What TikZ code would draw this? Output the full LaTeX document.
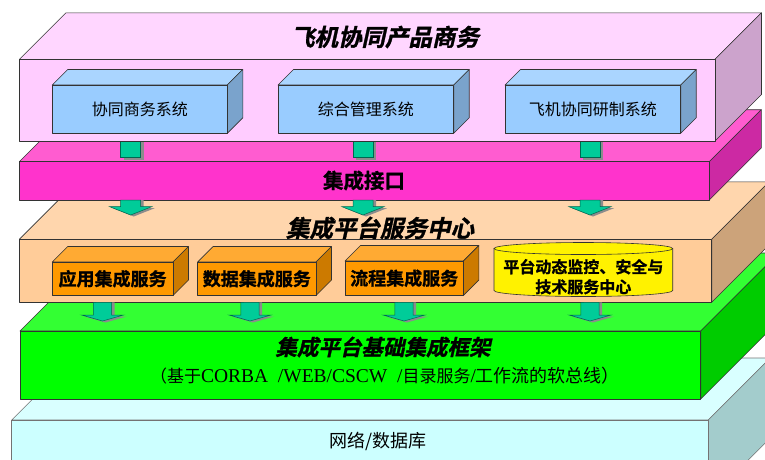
\documentclass[tikz,border=0pt]{standalone}
\usepackage{fontspec}
\setmainfont{Liberation Serif}
\newfontfamily\cjk{Noto Sans CJK SC}
\newfontfamily\cjkb{Noto Sans CJK SC Bold}[FakeBold=1.2]
\newfontfamily\cjkbi{Noto Sans CJK SC Bold}[FakeSlant=0.22, FakeBold=1.2]
\usetikzlibrary{calc}
\definecolor{pinkfront}{HTML}{FFCCFF}\definecolor{pinktop}{HTML}{FFD6FF}\definecolor{pinkside}{HTML}{CCA3CC}
\definecolor{bluefront}{HTML}{99CCFF}\definecolor{bluetop}{HTML}{AAD5FF}\definecolor{blueside}{HTML}{7AA3CC}
\definecolor{magfront}{HTML}{FF33CC}\definecolor{magtop}{HTML}{FF5CD0}\definecolor{magside}{HTML}{CC29A3}
\definecolor{peachfront}{HTML}{FFCC99}\definecolor{peachtop}{HTML}{FFD6AD}\definecolor{peachside}{HTML}{CCA37A}
\definecolor{orfront}{HTML}{FF9900}\definecolor{ortop}{HTML}{FFAA33}\definecolor{orside}{HTML}{CC7A00}
\definecolor{greenfront}{HTML}{00FF00}\definecolor{greentop}{HTML}{33FF33}\definecolor{greenside}{HTML}{00CC00}
\definecolor{cyanfront}{HTML}{CCFFFF}\definecolor{cyantop}{HTML}{D9FFFF}\definecolor{cyanside}{HTML}{A3CCCC}
\definecolor{tealc}{HTML}{00CC99}\definecolor{tealedge}{HTML}{006650}
\definecolor{edgec}{HTML}{333333}
\tikzset{
  edge/.style={draw=edgec, line width=0.6pt, line join=round},
  pinkfrontst/.style={fill=pinkfront}, pinktopst/.style={fill=pinktop}, pinksidest/.style={fill=pinkside},
  bluefrontst/.style={fill=bluefront}, bluetopst/.style={fill=bluetop}, bluesidest/.style={fill=blueside},
  magfrontst/.style={fill=magfront}, magtopst/.style={fill=magtop}, magsidest/.style={fill=magside},
  peachfrontst/.style={fill=peachfront}, peachtopst/.style={fill=peachtop}, peachsidest/.style={fill=peachside},
  orfrontst/.style={fill=orfront}, ortopst/.style={fill=ortop}, orsidest/.style={fill=orside},
  greenfrontst/.style={fill=greenfront}, greentopst/.style={fill=greentop}, greensidest/.style={fill=greenside},
  cyanfrontst/.style={fill=cyanfront}, cyantopst/.style={fill=cyantop}, cyansidest/.style={fill=cyanside},
  arrowbody/.style={fill=tealc, draw=tealedge, line width=0.5pt},
  arrowshadow/.style={fill=black!45},
  txt/.style={inner sep=0pt, text=black},
}
% name, style prefix, x1, y1, x2, y2, depth
\newcommand\cuboid[7]{%
  \path[edge,#2topst] (#3,#4) -- (#3+#7,#4-#7) -- (#5+#7,#4-#7) -- (#5,#4) -- cycle;
  \path[edge,#2sidest] (#5,#4) -- (#5+#7,#4-#7) -- (#5+#7,#6-#7) -- (#5,#6) -- cycle;
  \node[edge,#2frontst, anchor=north west, inner sep=0pt, outer sep=0pt,
        minimum width={(#5-#3)*1pt}, minimum height={(#6-#4)*1pt}] (#1) at (#3,#4) {};
}
% block arrow: cx, ytop, yhead, ytip, shaft half, head half
\newcommand\barrow[6]{%
  \fill[arrowshadow] (#1-#5+3,#2) -- (#1-#5+3,#3+1.5) -- (#1-#6+3,#3+1.5) -- (#1+3,#4+1.5) -- (#1+#6+3,#3+1.5) -- (#1+#5+3,#3+1.5) -- (#1+#5+3,#2) -- cycle;
  \path[arrowbody] (#1-#5,#2) -- (#1-#5,#3) -- (#1-#6,#3) -- (#1,#4) -- (#1+#6,#3) -- (#1+#5,#3) -- (#1+#5,#2) -- cycle;
}
\newcommand\connrect[3]{% cx, ytop, ybottom
  \fill[arrowshadow] (#1-10+3,#2) rectangle (#1+10+3,#3+2);
  \path[arrowbody] (#1-10,#2) rectangle (#1+10,#3);
}
\begin{document}
\begin{tikzpicture}[x=1pt,y=-1pt]
\useasboundingbox (0,0) rectangle (765,459);
\clip (0,0) rectangle (765,459);
% bottom layer
\begin{scope}[edge/.style={draw=black!55, line width=0.6pt, line join=round}]
\cuboid{cyan}{cyan}{11.7}{420}{708.3}{500}{62}
\end{scope}
\cuboid{green}{green}{20}{331}{700.7}{399}{78}
\cuboid{peach}{peach}{19.3}{239.3}{711.7}{302.3}{57.5}
\cuboid{mag}{mag}{19.3}{161.7}{709.3}{200}{52}
% connectors between pink and magenta
\connrect{130.7}{141}{157.7}
\connrect{363}{141}{157.7}
\connrect{590}{141}{157.7}
\cuboid{pink}{pink}{19.5}{59.3}{715}{141}{46.5}
% blue boxes
\cuboid{blue1}{blue}{52.2}{85}{227.3}{133.3}{15.5}
\cuboid{blue2}{blue}{278}{85}{453.7}{133.3}{15.5}
\cuboid{blue3}{blue}{505}{85}{680.7}{133.3}{15.5}
% orange boxes
\cuboid{or1}{or}{52.2}{262}{173}{295.5}{15.5}
\cuboid{or2}{or}{197.6}{262}{316}{295.5}{15.5}
\cuboid{or3}{or}{345}{261}{463.4}{295.5}{15.5}
% cylinder
\path[edge, fill=yellow] (494,248.5) -- (494,290.5) arc[start angle=180, end angle=0, x radius=89.35, y radius=6] -- (672.7,248.5) -- cycle;
\path[edge, fill=yellow] (583.35,248.5) ellipse[x radius=89.35, y radius=6];
\node[inner sep=0pt, minimum width=178.7pt, minimum height=54pt] (cyl) at (583.35,271) {};
% arrows magenta -> peach
\barrow{130.7}{200}{206.7}{215}{10}{21}
\barrow{363}{200}{206.7}{215}{10}{21}
\barrow{590}{200}{206.7}{215}{10}{21}
% arrows peach -> green
\barrow{102.5}{302.3}{315}{321}{9.2}{21}
\barrow{250}{302.3}{315}{321}{9.2}{21}
\barrow{404}{302.3}{315}{321}{9.2}{21}
\barrow{590}{302.3}{315}{321}{9.2}{21}
% texts
\node[txt, font=\cjkbi\fontsize{23.5}{24}\selectfont] (t1) at (385,37) {飞机协同产品商务};
\node[txt, font=\cjk\fontsize{16}{16}\selectfont] (tb1) at (blue1.center) {协同商务系统};
\node[txt, font=\cjk\fontsize{16}{16}\selectfont] (tb2) at (blue2.center) {综合管理系统};
\node[txt, font=\cjk\fontsize{16}{16}\selectfont] (tb3) at (blue3.center) {飞机协同研制系统};
\node[txt, font=\cjkb\fontsize{20.5}{21}\selectfont] (t2) at (364,180.5) {集成接口};
\node[txt, font=\cjkbi\fontsize{23.5}{24}\selectfont] (t3) at (380,228) {集成平台服务中心};
\node[txt, font=\cjkb\fontsize{18}{18}\selectfont] (to1) at (or1.center) {应用集成服务};
\node[txt, font=\cjkb\fontsize{18}{18}\selectfont] (to2) at (or2.center) {数据集成服务};
\node[txt, font=\cjkb\fontsize{18}{18}\selectfont] (to3) at (or3.center) {流程集成服务};
\node[txt, align=center, font=\cjkb\fontsize{16}{20}\selectfont] (tc) at (583.35,276.7) {平台动态监控、安全与\\技术服务中心};
\node[txt, font=\cjkbi\fontsize{21.5}{22}\selectfont] (t4) at (383,347) {集成平台基础集成框架};
\node[txt, font=\fontsize{19.5}{20}\selectfont] (t5) at (385,375.5) {{\cjk\fontsize{17}{18}\selectfont （基于}CORBA\ \ /WEB/CSCW\ \ /{\cjk\fontsize{17}{18}\selectfont 目录服务}/{\cjk\fontsize{18}{18}\selectfont 工作流的软总线）}};
\node[txt, font=\cjk\fontsize{18}{18}\selectfont] (t6) at (378,441.5) {网络/数据库};
\end{tikzpicture}
\end{document}
